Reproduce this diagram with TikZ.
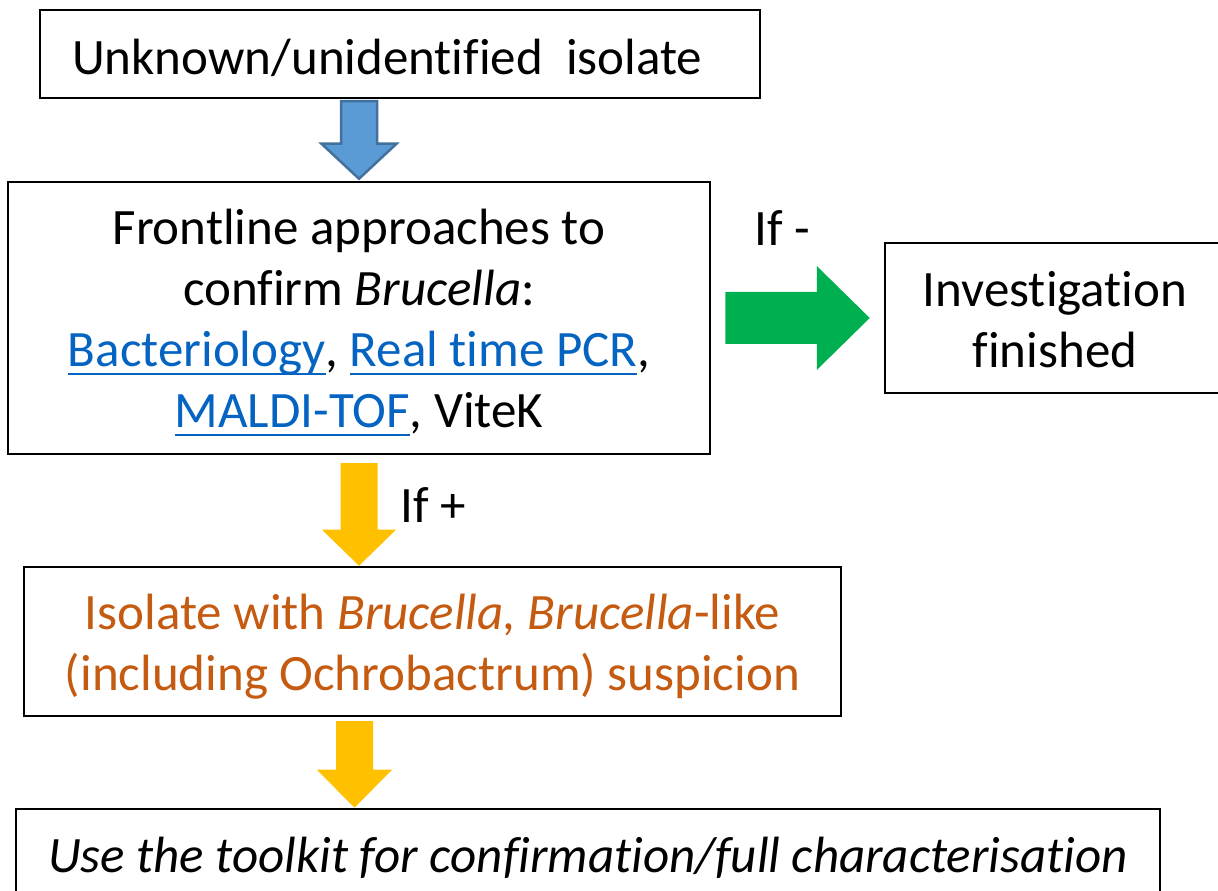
\documentclass[tikz,border=0pt]{standalone}
\usepackage{fontspec}
\setmainfont[Ligatures=NoCommon]{Carlito}
\usetikzlibrary{calc}

\newcommand{\linktext}[1]{\textcolor{link_blue}{\setbox0\hbox{#1}\rlap{\rule[-9pt]{\wd0}{2.5pt}}\box0}}
\newcommand{\toppad}[1]{\rule{0pt}{#1}}

\begin{document}
\begin{tikzpicture}[x=1pt, y=1pt,
    box/.style={draw=black, line width=2.5pt, align=center, inner sep=0pt,
        font=\fontsize{51}{61}\selectfont},
    lbl/.style={inner sep=0pt, font=\fontsize{51}{61}\selectfont},
    down arrow/.style n args={3}{to path={
        ($(\tikztostart)+(-#1,0)$) -- ($(\tikztotarget)+(-#1,#3)$) -- ($(\tikztotarget)+(-#2,#3)$)
        -- (\tikztotarget) -- ($(\tikztotarget)+(#2,#3)$) -- ($(\tikztotarget)+(#1,#3)$)
        -- ($(\tikztostart)+(#1,0)$) -- cycle}},
    right arrow/.style n args={3}{to path={
        ($(\tikztostart)+(0,-#1)$) -- ($(\tikztotarget)+(-#3,-#1)$) -- ($(\tikztotarget)+(-#3,-#2)$)
        -- (\tikztotarget) -- ($(\tikztotarget)+(-#3,#2)$) -- ($(\tikztotarget)+(-#3,#1)$)
        -- ($(\tikztostart)+(0,#1)$) -- cycle}}]
    \definecolor{arrow_blue}{HTML}{5B9BD5}
    \definecolor{arrow_blue_edge}{HTML}{41719C}
    \definecolor{arrow_green}{HTML}{00B050}
    \definecolor{arrow_yellow}{HTML}{FFC000}
    \definecolor{text_orange}{HTML}{C55A11}
    \definecolor{link_blue}{HTML}{0563C1}
    %\draw[help lines, step=100] (0,0) grid (1218,891);
    \useasboundingbox (0,0) rectangle (1218,891);

    \node[box, minimum width=720, minimum height=88] (unknown) at (400,837)
        {\toppad{43pt}Unknown/unidentified\ \ isolate\hspace{0.5em}};
    \node[box, minimum width=702, minimum height=272] (frontline) at (359,573)
        {\toppad{45pt}Frontline approaches to\\ confirm \textit{Brucella}:\\
         \linktext{Bacteriology}, \linktext{Real time PCR},\\
         \linktext{MALDI-TOF}, ViteK};
    \node[box, minimum width=340, minimum height=150] (finished) at (1055,573)
        {\toppad{39pt}Investigation\\ finished};
    \node[box, minimum width=817, minimum height=149, text=text_orange] (suspicion) at (432.5,249.5)
        {\toppad{46pt}Isolate with \textit{Brucella, Brucella}-like\\ (including Ochrobactrum) suspicion};
    \node[box, minimum width=1144, minimum height=92] (toolkit) at (588,36)
        {\toppad{41pt}\textit{Use the toolkit for confirmation/full characterisation}};

    \node[lbl] (ifneg) at (782,663) {If -};
    \node[lbl] (ifpos) at (433,386) {If +};

    \coordinate (a1s) at ($(frontline.north |- unknown.south)+(0,-2)$);
    \coordinate (a1t) at ($(frontline.north)+(0,2)$);
    \coordinate (a2s) at ($(frontline.east)+(14,0)$);
    \coordinate (a2t) at ($(finished.west)+(-14,0)$);
    \coordinate (a3s) at ($(frontline.south)+(0,-8)$);
    \coordinate (a3t) at (frontline.south |- suspicion.north);
    \coordinate (a4s) at ($(suspicion.south)+(-78,-4)$);
    \coordinate (a4t) at (a4s |- toolkit.north);

    \draw[fill=arrow_blue, draw=arrow_blue_edge, line width=2.5pt, line join=miter]
        (a1s) to[down arrow={18}{37.5}{35}] (a1t);
    \fill[arrow_green] (a2s) to[right arrow={26}{52}{53}] (a2t);
    \fill[arrow_yellow] (a3s) to[down arrow={18.5}{37}{36}] (a3t);
    \fill[arrow_yellow] (a4s) to[down arrow={18.5}{37.5}{38}] (a4t);
\end{tikzpicture}
\end{document}
